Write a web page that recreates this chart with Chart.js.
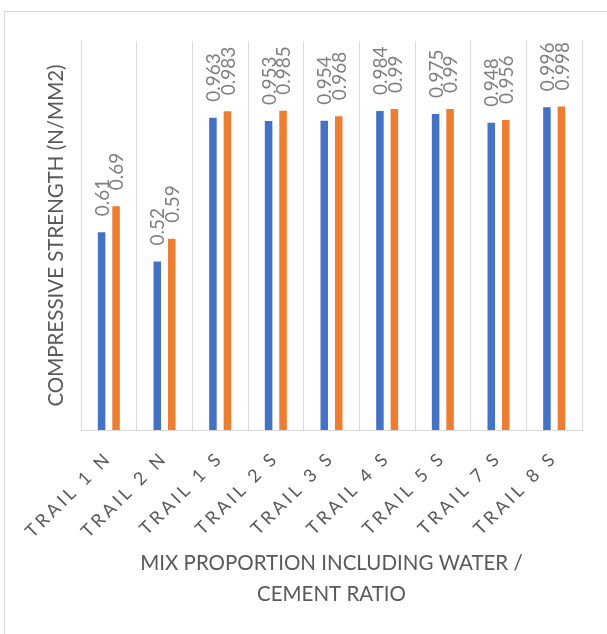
<!DOCTYPE html>
<html>
<head>
<meta charset="utf-8">
<script src="https://cdn.jsdelivr.net/npm/chart.js@4/dist/chart.umd.min.js"></script>
<style>
  html, body { margin: 0; padding: 0; background: #ffffff; }
  #wrap { width: 607px; height: 634px; position: relative; }
</style>
</head>
<body>
<div id="wrap"><canvas id="c" width="607" height="634"></canvas></div>
<script>
const categories = ['TRAIL 1 N', 'TRAIL 2 N', 'TRAIL 1 S', 'TRAIL 2 S', 'TRAIL 3 S', 'TRAIL 4 S', 'TRAIL 5 S', 'TRAIL 7 S', 'TRAIL 8 S'];
const seriesA = [0.61, 0.52, 0.963, 0.953, 0.954, 0.984, 0.975, 0.948, 0.996];
const seriesB = [0.69, 0.59, 0.983, 0.985, 0.968, 0.99, 0.99, 0.956, 0.998];
const yTitle = 'COMPRESSIVE STRENGTH (N/MM2)';
const xTitle = ['MIX PROPORTION INCLUDING WATER /', 'CEMENT RATIO'];

const FONT = 'Lato, "Open Sans", sans-serif';

class SpacedCategoryScale extends Chart.CategoryScale {
  drawLabels(area) {
    const ctx = this.ctx;
    ctx.save();
    ctx.letterSpacing = '3.5px';
    super.drawLabels(area);
    ctx.restore();
  }
}
SpacedCategoryScale.id = 'spacedCategory';
SpacedCategoryScale.defaults = Chart.CategoryScale.defaults;
Chart.register(SpacedCategoryScale);

const frame = {
  id: 'frame',
  beforeDraw(chart) {
    const ctx = chart.ctx;
    ctx.save();
    ctx.strokeStyle = '#d9d9d9';
    ctx.lineWidth = 1;
    ctx.beginPath();
    ctx.moveTo(4.5, 640);
    ctx.lineTo(4.5, 11.5);
    ctx.lineTo(610, 11.5);
    ctx.stroke();
    ctx.restore();
  }
};

const valueLabels = {
  id: 'valueLabels',
  afterDatasetsDraw(chart) {
    const ctx = chart.ctx;
    ctx.save();
    ctx.font = '19px ' + FONT;
    ctx.fillStyle = '#7f7f7f';
    ctx.textAlign = 'left';
    ctx.textBaseline = 'middle';
    chart.data.datasets.forEach((ds, di) => {
      const meta = chart.getDatasetMeta(di);
      meta.data.forEach((el, i) => {
        const v = ds.data[i];
        ctx.save();
        ctx.translate(el.x + 1, el.y - 16);
        ctx.rotate(-Math.PI / 2);
        ctx.fillText(String(v), 0, 0);
        ctx.restore();
      });
    });
    ctx.restore();
  }
};

new Chart(document.getElementById('c'), {
  type: 'bar',
  data: {
    labels: categories,
    datasets: [
      { label: 'A', data: seriesA, backgroundColor: '#4472C4', categoryPercentage: 0.52, barPercentage: 0.52 },
      { label: 'B', data: seriesB, backgroundColor: '#ED7D31', categoryPercentage: 0.52, barPercentage: 0.52 }
    ]
  },
  options: {
    responsive: false,
    animation: false,
    devicePixelRatio: 1,
    layout: { padding: { top: 41, right: 25, left: 0, bottom: 0 } },
    plugins: { legend: { display: false }, tooltip: { enabled: false }, title: { display: false } },
    scales: {
      x: {
        type: 'spacedCategory',
        offset: true,
        grid: { display: true, color: '#d9d9d9', lineWidth: 1, drawTicks: false, offset: true },
        border: { display: true, color: '#d9d9d9', width: 1 },
        ticks: { color: '#595959', font: { family: FONT, size: 18 }, minRotation: 45, maxRotation: 45, padding: 17, autoSkip: false },
        title: { display: true, text: xTitle, color: '#595959', font: { family: FONT, size: 20.5, lineHeight: 1.5 }, padding: { top: 0, bottom: 24 } },
        afterFit(s) { s.height = 204; }
      },
      y: {
        min: 0, max: 1.2,
        grid: { display: false },
        border: { display: false },
        ticks: { display: false },
        title: { display: true, text: yTitle, color: '#595959', font: { family: FONT, size: 20.5, lineHeight: 1.2 }, padding: { top: 44, bottom: 0 } },
        afterFit(s) { s.width = 81; }
      }
    }
  },
  plugins: [frame, valueLabels]
});
</script>
</body>
</html>
